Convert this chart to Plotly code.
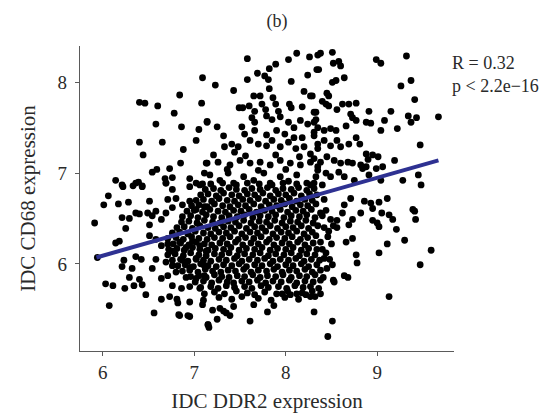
import plotly.graph_objects as go

# IDC expression values (DDR2, CD68) for individual samples, grouped by region of the cloud
left_pts = [
    (5.91, 6.45), (5.94, 6.07), (6.06, 6.75), (6.01, 6.65), (6.17, 6.66), (6.28, 6.68),
    (6.21, 6.51), (6.29, 6.50), (6.36, 6.56), (6.40, 6.55), (6.51, 6.69), (6.25, 6.39),
    (6.14, 6.23), (6.18, 6.25), (6.23, 6.04), (6.21, 5.97), (6.36, 6.08), (6.42, 6.05),
    (6.32, 5.95), (6.29, 5.85), (6.40, 5.83), (6.43, 5.77), (6.34, 5.76), (6.24, 5.73),
    (6.03, 5.78), (6.11, 5.76), (6.07, 5.54), (6.56, 5.46), (6.64, 5.61), (6.81, 5.61),
    (6.83, 5.44), (6.93, 5.43), (6.47, 5.66), (7.15, 5.33),
    (6.49, 6.56), (6.54, 6.53), (6.51, 6.43), (6.58, 6.58), (6.64, 6.49), (6.69, 6.56),
    (6.76, 6.62), (6.71, 6.71), (6.80, 6.72), (6.87, 6.65), (6.95, 6.69), (7.02, 6.60),
    (7.11, 6.63), (6.51, 6.31), (6.58, 6.27), (6.64, 6.20), (6.71, 6.22), (6.76, 6.14),
    (6.84, 6.24), (6.91, 6.18), (6.98, 6.25), (7.06, 6.20), (7.13, 6.14),
    (6.58, 6.05), (6.69, 6.02), (6.76, 5.98), (6.87, 6.04), (6.95, 5.96), (7.02, 6.05),
    (7.11, 5.98), (6.54, 5.95), (6.71, 5.87), (6.80, 5.91), (6.91, 5.85), (7.02, 5.84),
    (7.11, 5.87), (6.76, 5.76), (6.86, 5.73), (6.95, 5.75), (7.06, 5.73), (7.11, 5.67),
    (6.73, 5.64), (6.82, 5.57), (6.95, 5.58), (7.10, 5.60), (6.64, 5.84),
    (6.21, 6.87), (6.36, 6.89), (6.43, 6.85), (6.69, 6.89), (6.76, 6.82), (6.95, 6.85),
    (7.06, 6.87),
]

upper_left_pts = [
    (7.09, 8.05), (6.84, 7.86), (6.40, 7.78), (6.46, 7.77), (6.60, 7.74), (7.08, 7.77),
    (6.78, 7.66), (6.58, 7.54), (6.86, 7.51), (7.14, 7.56), (7.05, 7.48), (6.40, 7.34),
    (6.65, 7.34), (7.02, 7.36), (6.44, 7.20), (6.88, 7.26), (6.85, 7.11), (7.14, 7.11),
    (6.54, 7.01), (6.59, 7.04), (6.73, 7.05), (7.11, 7.00), (6.14, 6.92), (6.22, 6.85),
    (6.33, 6.86), (6.39, 6.90), (6.43, 6.86), (6.68, 6.94), (6.76, 6.95), (6.69, 6.89),
    (6.95, 6.94), (7.02, 6.89), (7.09, 6.88),
]

upper_mid_pts = [
    (7.58, 8.26), (8.03, 8.25), (8.12, 8.32), (8.26, 8.28), (8.35, 8.30), (7.89, 8.20),
    (7.82, 8.15), (7.69, 8.10), (7.77, 8.07), (7.81, 8.03), (7.23, 7.97), (7.58, 8.03),
    (7.43, 7.91), (8.06, 8.01), (8.24, 8.08), (8.34, 8.14), (7.82, 7.93), (7.65, 7.85),
    (7.72, 7.85), (7.86, 7.83), (7.49, 7.72), (7.53, 7.72), (7.60, 7.74), (7.74, 7.76),
    (7.78, 7.70), (7.66, 7.68), (7.89, 7.76), (7.92, 7.68), (8.04, 7.76), (8.06, 7.72),
    (8.18, 7.73), (8.31, 7.67), (8.20, 7.90), (8.27, 7.85), (7.14, 7.57), (7.25, 7.51),
    (7.52, 7.51), (7.63, 7.61), (7.66, 7.56), (7.79, 7.63), (7.85, 7.59), (7.94, 7.62),
    (8.03, 7.56), (8.09, 7.50), (8.16, 7.58), (8.24, 7.54), (8.33, 7.59),
    (7.32, 7.41), (7.55, 7.43), (7.66, 7.47), (7.79, 7.42), (7.90, 7.47), (7.99, 7.43),
    (8.09, 7.39), (8.18, 7.39), (8.31, 7.45), (7.33, 7.29), (7.41, 7.32), (7.48, 7.29),
    (7.44, 7.23), (7.61, 7.36), (7.70, 7.32), (7.79, 7.30), (7.85, 7.36), (7.94, 7.29),
    (8.03, 7.34), (8.11, 7.27), (8.20, 7.29), (8.27, 7.21), (8.35, 7.32),
    (7.13, 7.11), (7.26, 7.12), (7.39, 7.09), (7.50, 7.14), (7.61, 7.11), (7.72, 7.12),
    (7.83, 7.09), (7.94, 7.14), (8.05, 7.11), (8.16, 7.09), (8.27, 7.12), (8.35, 7.07),
    (7.17, 6.98), (7.28, 6.92), (7.37, 7.00), (7.43, 6.89), (7.54, 6.96), (7.65, 6.92),
    (7.76, 7.00), (7.83, 6.89), (7.94, 6.96), (8.03, 6.91), (8.12, 6.98), (8.23, 6.89),
    (8.33, 6.96), (7.21, 7.20), (7.56, 7.19), (7.89, 7.20), (8.15, 7.18), (7.36, 7.04),
    (7.70, 7.03), (8.00, 7.04),
]

upper_right_pts = [
    (8.38, 8.32), (8.51, 8.33), (8.52, 8.21), (8.58, 8.23), (8.60, 8.18), (8.99, 8.25),
    (9.04, 8.21), (9.32, 8.29), (8.36, 8.14), (8.64, 8.05), (8.51, 8.00), (8.55, 8.02),
    (9.26, 7.96), (9.37, 8.02), (9.41, 7.81), (9.67, 7.62), (8.45, 7.88), (8.47, 7.85),
    (8.29, 7.85), (8.40, 7.79), (8.44, 7.76), (8.47, 7.74), (8.62, 7.76), (8.69, 7.76),
    (8.77, 7.77), (8.56, 7.70), (8.91, 7.68), (9.15, 7.68), (9.34, 7.63), (9.43, 7.61),
    (9.37, 7.56), (9.22, 7.49), (9.04, 7.47), (9.08, 7.58), (8.71, 7.65), (8.73, 7.61),
    (8.66, 7.52), (8.77, 7.58), (8.88, 7.56), (8.93, 7.55), (8.33, 7.67), (8.31, 7.56),
    (8.35, 7.50), (8.42, 7.47), (8.49, 7.49), (8.55, 7.47), (8.31, 7.41), (8.77, 7.39),
    (8.42, 7.36), (8.56, 7.36), (8.49, 7.30), (8.60, 7.29), (8.69, 7.32), (8.35, 7.27),
    (8.81, 7.32), (9.47, 7.31), (8.88, 7.21), (8.95, 7.20), (9.01, 7.18), (8.90, 7.15),
    (9.19, 7.14), (9.06, 7.07), (8.31, 7.16), (8.38, 7.12), (8.45, 7.18), (8.53, 7.14),
    (8.60, 7.11), (8.68, 7.12), (8.73, 7.11), (8.82, 7.09), (8.84, 7.05), (8.88, 7.07),
    (8.35, 7.03), (8.44, 7.00), (8.49, 6.96), (8.58, 7.01), (8.64, 6.96), (8.75, 6.92),
    (8.91, 6.98), (8.99, 7.05), (9.04, 6.92), (9.28, 6.92), (9.45, 6.98), (9.48, 6.87),
    (8.31, 6.89), (8.40, 6.87),
]

lower_right_pts = [
    (8.86, 6.69), (8.93, 6.67), (9.02, 6.68), (9.11, 6.72), (8.82, 6.56), (8.95, 6.61),
    (9.05, 6.56), (9.13, 6.54), (9.17, 6.49), (8.95, 6.48), (9.02, 6.41), (9.00, 6.45),
    (9.21, 6.38), (9.39, 6.60), (9.41, 6.58), (9.42, 6.49), (9.30, 6.26), (9.11, 6.22),
    (9.59, 6.15), (9.47, 5.99), (9.02, 6.12), (9.13, 5.64), (8.73, 6.28), (8.66, 6.24),
    (8.77, 6.10), (8.78, 6.01), (8.64, 5.87), (8.68, 5.85), (8.51, 5.99), (8.52, 5.82),
    (8.53, 5.80), (8.40, 6.16), (8.42, 6.06), (8.51, 5.37), (8.46, 5.20),
    (8.71, 6.72), (8.64, 6.65), (8.62, 6.56), (8.73, 6.49), (8.69, 6.43), (8.56, 6.40),
    (8.49, 6.49), (8.38, 6.56), (8.42, 6.71), (8.35, 6.42), (8.33, 6.31), (8.38, 6.24),
    (8.45, 5.95), (8.48, 6.05), (8.44, 6.12), (8.50, 6.22), (8.46, 6.30),
]

bottom_pts = [
    (7.09, 5.55), (7.20, 5.49), (7.28, 5.51), (7.43, 5.53), (7.15, 5.33), (7.35, 5.46),
    (7.61, 5.37), (7.65, 5.55), (7.80, 5.47), (7.96, 5.67), (8.05, 5.66), (8.12, 5.67),
    (8.22, 5.66), (8.31, 5.47), (8.32, 5.64), (6.84, 5.43), (6.95, 5.42), (7.16, 5.30),
    (7.25, 5.39), (7.32, 5.48), (7.39, 5.43), (7.87, 5.54),
]

core_pts = [
    (7.27, 5.63), (7.41, 5.61), (7.52, 5.64), (7.70, 5.62), (7.84, 5.60), (7.99, 5.63),
    (8.14, 5.61), (8.27, 5.64),
    (7.22, 5.69), (7.33, 5.67), (7.46, 5.70), (7.58, 5.68), (7.66, 5.66), (7.77, 5.69),
    (7.90, 5.67), (8.02, 5.70), (8.18, 5.68), (8.29, 5.70), (8.38, 5.67),
    (7.07, 5.74), (7.18, 5.75), (7.26, 5.73), (7.35, 5.76), (7.44, 5.74), (7.55, 5.75),
    (7.63, 5.73), (7.73, 5.76), (7.81, 5.74), (7.92, 5.75), (8.01, 5.73), (8.10, 5.76),
    (8.19, 5.74), (8.27, 5.75), (8.36, 5.73),
    (7.01, 5.80), (7.10, 5.81), (7.19, 5.79), (7.27, 5.82), (7.36, 5.80), (7.43, 5.79),
    (7.52, 5.81), (7.60, 5.80), (7.69, 5.82), (7.78, 5.79), (7.86, 5.81), (7.95, 5.80),
    (8.04, 5.82), (8.12, 5.79), (8.21, 5.81), (8.30, 5.80), (8.38, 5.82),
    (6.96, 5.86), (7.05, 5.87), (7.13, 5.85), (7.22, 5.88), (7.30, 5.86), (7.38, 5.85),
    (7.47, 5.87), (7.55, 5.86), (7.64, 5.88), (7.72, 5.85), (7.80, 5.87), (7.89, 5.86),
    (7.97, 5.88), (8.06, 5.85), (8.15, 5.87), (8.23, 5.86), (8.32, 5.88), (8.41, 5.85),
    (6.87, 5.92), (6.95, 5.93), (7.04, 5.91), (7.12, 5.94), (7.20, 5.92), (7.29, 5.91),
    (7.37, 5.93), (7.45, 5.92), (7.54, 5.94), (7.62, 5.91), (7.70, 5.93), (7.79, 5.92),
    (7.87, 5.94), (7.96, 5.91), (8.04, 5.93), (8.12, 5.92), (8.21, 5.94), (8.29, 5.91),
    (8.38, 5.93),
    (6.82, 5.98), (6.90, 5.99), (6.99, 5.97), (7.07, 6.00), (7.15, 5.98), (7.24, 5.97),
    (7.32, 5.99), (7.41, 5.98), (7.49, 6.00), (7.57, 5.97), (7.66, 5.99), (7.74, 5.98),
    (7.83, 6.00), (7.91, 5.97), (8.00, 5.99), (8.08, 5.98), (8.17, 6.00), (8.25, 5.97),
    (8.34, 5.99),
    (6.76, 6.04), (6.85, 6.05), (6.93, 6.03), (7.02, 6.06), (7.10, 6.04), (7.18, 6.03),
    (7.27, 6.05), (7.35, 6.04), (7.44, 6.06), (7.52, 6.03), (7.60, 6.05), (7.69, 6.04),
    (7.77, 6.06), (7.86, 6.03), (7.94, 6.05), (8.03, 6.04), (8.11, 6.06), (8.20, 6.03),
    (8.28, 6.05), (8.37, 6.04),
    (6.71, 6.10), (6.79, 6.11), (6.88, 6.09), (6.96, 6.12), (7.05, 6.10), (7.13, 6.09),
    (7.22, 6.11), (7.30, 6.10), (7.38, 6.12), (7.47, 6.09), (7.55, 6.11), (7.64, 6.10),
    (7.72, 6.12), (7.81, 6.09), (7.89, 6.11), (7.98, 6.10), (8.06, 6.12), (8.15, 6.09),
    (8.23, 6.11), (8.32, 6.10),
    (6.72, 6.16), (6.81, 6.17), (6.89, 6.15), (6.98, 6.18), (7.06, 6.16), (7.15, 6.15),
    (7.23, 6.17), (7.32, 6.16), (7.40, 6.18), (7.49, 6.15), (7.57, 6.17), (7.66, 6.16),
    (7.74, 6.18), (7.83, 6.15), (7.91, 6.17), (8.00, 6.16), (8.08, 6.18), (8.17, 6.15),
    (8.25, 6.17), (8.34, 6.16),
    (6.77, 6.22), (6.85, 6.23), (6.94, 6.21), (7.02, 6.24), (7.11, 6.22), (7.19, 6.21),
    (7.28, 6.23), (7.36, 6.22), (7.45, 6.24), (7.53, 6.21), (7.62, 6.23), (7.70, 6.22),
    (7.79, 6.24), (7.87, 6.21), (7.96, 6.23), (8.04, 6.22), (8.13, 6.24), (8.21, 6.21),
    (8.30, 6.23),
    (6.71, 6.28), (6.80, 6.29), (6.88, 6.27), (6.97, 6.30), (7.05, 6.28), (7.14, 6.27),
    (7.22, 6.29), (7.31, 6.28), (7.39, 6.30), (7.48, 6.27), (7.56, 6.29), (7.65, 6.28),
    (7.73, 6.30), (7.82, 6.27), (7.90, 6.29), (7.99, 6.28), (8.07, 6.30), (8.16, 6.27),
    (8.24, 6.29),
    (6.76, 6.34), (6.84, 6.35), (6.93, 6.33), (7.01, 6.36), (7.10, 6.34), (7.18, 6.33),
    (7.27, 6.35), (7.35, 6.34), (7.44, 6.36), (7.52, 6.33), (7.61, 6.35), (7.69, 6.34),
    (7.78, 6.36), (7.86, 6.33), (7.95, 6.35), (8.03, 6.34), (8.12, 6.36), (8.20, 6.33),
    (8.29, 6.35), (8.47, 6.36),
    (6.81, 6.40), (6.89, 6.41), (6.98, 6.39), (7.06, 6.42), (7.15, 6.40), (7.23, 6.39),
    (7.32, 6.41), (7.40, 6.40), (7.49, 6.42), (7.57, 6.39), (7.66, 6.41), (7.74, 6.40),
    (7.83, 6.42), (7.91, 6.39), (8.00, 6.41), (8.08, 6.40), (8.17, 6.42), (8.25, 6.39),
    (8.42, 6.40), (8.52, 6.42),
    (6.86, 6.46), (6.94, 6.47), (7.03, 6.45), (7.11, 6.48), (7.20, 6.46), (7.28, 6.45),
    (7.37, 6.47), (7.45, 6.46), (7.54, 6.48), (7.62, 6.45), (7.71, 6.47), (7.79, 6.46),
    (7.88, 6.48), (7.96, 6.45), (8.05, 6.47), (8.13, 6.46), (8.22, 6.48), (8.30, 6.45),
    (8.56, 6.48),
    (6.87, 6.52), (6.96, 6.53), (7.04, 6.51), (7.13, 6.54), (7.21, 6.52), (7.30, 6.51),
    (7.38, 6.53), (7.47, 6.52), (7.55, 6.54), (7.64, 6.51), (7.72, 6.53), (7.81, 6.52),
    (7.89, 6.54), (7.98, 6.51), (8.06, 6.53), (8.15, 6.52), (8.23, 6.54), (8.32, 6.51),
    (8.40, 6.53),
    (6.92, 6.58), (7.00, 6.59), (7.09, 6.57), (7.17, 6.60), (7.26, 6.58), (7.34, 6.57),
    (7.43, 6.59), (7.51, 6.58), (7.60, 6.60), (7.68, 6.57), (7.77, 6.59), (7.85, 6.58),
    (7.94, 6.60), (8.02, 6.57), (8.11, 6.59), (8.19, 6.58), (8.28, 6.60), (8.44, 6.59),
    (6.97, 6.64), (7.05, 6.65), (7.14, 6.63), (7.22, 6.66), (7.31, 6.64), (7.39, 6.63),
    (7.48, 6.65), (7.56, 6.64), (7.65, 6.66), (7.73, 6.63), (7.82, 6.65), (7.90, 6.64),
    (7.99, 6.66), (8.07, 6.63), (8.16, 6.65), (8.24, 6.64), (8.33, 6.66),
    (7.02, 6.70), (7.10, 6.71), (7.19, 6.69), (7.27, 6.72), (7.36, 6.70), (7.44, 6.69),
    (7.53, 6.71), (7.61, 6.70), (7.70, 6.72), (7.78, 6.69), (7.87, 6.71), (7.95, 6.70),
    (8.04, 6.72), (8.12, 6.69), (8.21, 6.71), (8.29, 6.70),
    (7.07, 6.76), (7.15, 6.77), (7.24, 6.75), (7.32, 6.78), (7.41, 6.76), (7.49, 6.75),
    (7.58, 6.77), (7.66, 6.76), (7.75, 6.78), (7.83, 6.75), (7.92, 6.77), (8.00, 6.76),
    (8.09, 6.78), (8.17, 6.75), (8.26, 6.77), (8.34, 6.76),
    (7.12, 6.82), (7.21, 6.83), (7.29, 6.81), (7.38, 6.84), (7.46, 6.82), (7.55, 6.81),
    (7.63, 6.83), (7.72, 6.82), (7.80, 6.84), (7.89, 6.81), (7.97, 6.83), (8.06, 6.82),
    (8.14, 6.84), (8.23, 6.81), (8.31, 6.83),
    (7.18, 6.88), (7.31, 6.89), (7.46, 6.87), (7.58, 6.89), (7.71, 6.88), (7.85, 6.87),
    (7.97, 6.89), (8.12, 6.88), (8.27, 6.87),
]

# endpoints of the fitted regression line
fit_x = [5.93, 9.67]
fit_y = [6.07, 7.14]

x_ticks = [6, 7, 8, 9]
y_ticks = [6, 7, 8]

all_pts = left_pts + upper_left_pts + upper_mid_pts + upper_right_pts + lower_right_pts + bottom_pts + core_pts
ddr2 = [p[0] for p in all_pts]
cd68 = [p[1] for p in all_pts]

SERIF = "Liberation Serif, Times New Roman, serif"
AXIS_GREY = "#5a5a5a"
TEXT = "#2a2a2a"

fig = go.Figure()
fig.add_trace(go.Scatter(
    x=ddr2, y=cd68, mode="markers",
    marker=dict(size=6.8, color="black", line=dict(width=0)),
    hoverinfo="skip", showlegend=False,
))
fig.add_trace(go.Scatter(
    x=fit_x, y=fit_y, mode="lines",
    line=dict(color="#2e3192", width=4),
    hoverinfo="skip", showlegend=False,
))

axis_common = dict(
    showline=True, linecolor=AXIS_GREY, linewidth=1.3,
    ticks="outside", ticklen=4, tickcolor=AXIS_GREY, tickwidth=1.2,
    showgrid=False, zeroline=False, automargin=False,
    tickfont=dict(family=SERIF, size=19, color=TEXT),
)

fig.update_layout(
    width=554, height=413,
    margin=dict(l=80, r=100, t=46, b=62),
    paper_bgcolor="white", plot_bgcolor="white",
    title=dict(text="(b)", x=0.5, xref="container", xanchor="center",
               y=0.951, yref="container", yanchor="middle",
               font=dict(family=SERIF, size=18, color=TEXT)),
    xaxis=dict(range=[5.75, 9.84], tickvals=x_ticks, ticklabelstandoff=0,
               title=dict(text="IDC DDR2 expression", standoff=16,
                          font=dict(family=SERIF, size=21, color=TEXT)),
               **axis_common),
    yaxis=dict(range=[5.04, 8.40], tickvals=y_ticks, ticklabelstandoff=4,
               title=dict(text="IDC CD68 expression", standoff=16,
                          font=dict(family=SERIF, size=21, color=TEXT)),
               **axis_common),
    annotations=[
        dict(text="R = 0.32<br>p < 2.2e\u221216", xref="paper", yref="paper",
             x=0.99, y=0.985, xanchor="left", yanchor="top", align="left",
             showarrow=False, font=dict(family=SERIF, size=18, color=TEXT)),
    ],
)

fig.write_html("out.html")
